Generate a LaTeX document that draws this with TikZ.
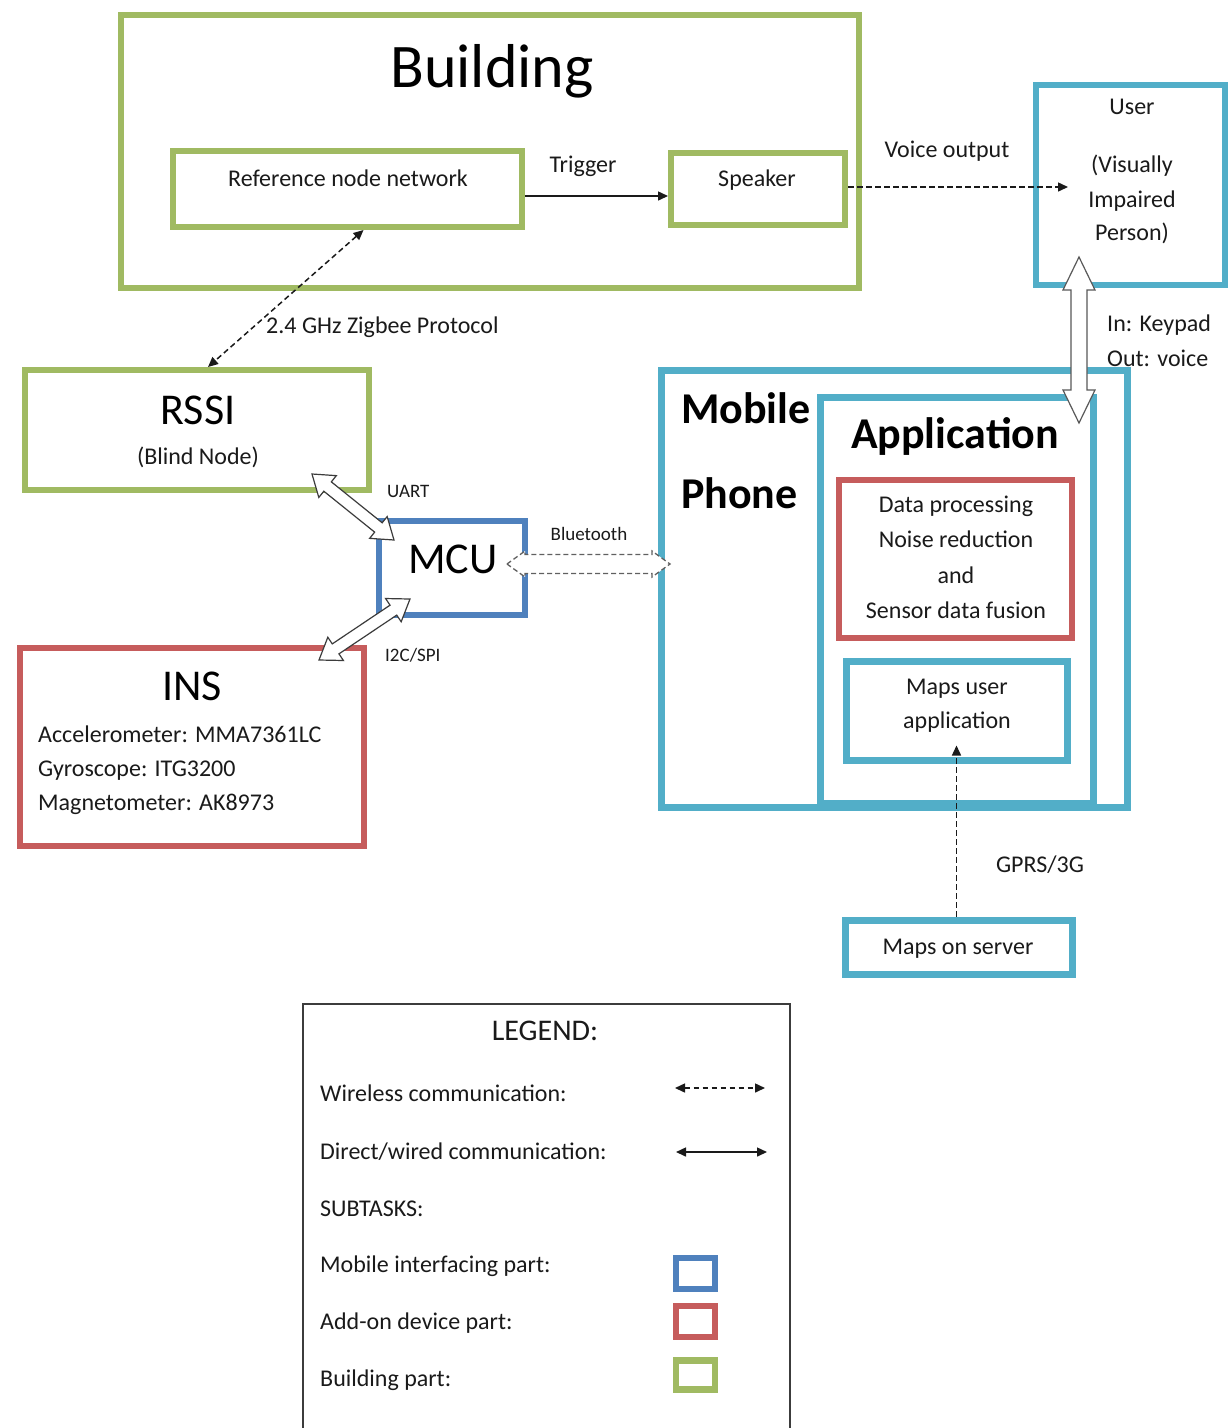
\documentclass[tikz,border=0pt]{standalone}
\usepackage{fontspec}
\setmainfont{Carlito}
\usetikzlibrary{arrows.meta}

\definecolor{bgreen}{HTML}{A0BA62}
\definecolor{bteal}{HTML}{52AEC8}
\definecolor{bred}{HTML}{C65C5C}
\definecolor{bblue}{HTML}{4F81BD}
\definecolor{ink}{HTML}{1A1A1A}

% hollow block arrow with heads at both ends:
% #1 style, #2 from, #3 to, #4 shaft half-width, #5 head half-width, #6 head length (pt)
\newcommand\blockarrow[6]{%
  \path (#2); \pgfgetlastxy{\baX}{\baY}%
  \path (#3); \pgfgetlastxy{\bbX}{\bbY}%
  \pgfmathsetmacro\baAng{atan2(\bbY-\baY,\bbX-\baX)}%
  \pgfmathsetmacro\baLen{veclen(\bbX-\baX,\bbY-\baY)}%
  \pgfmathsetmacro\baNeck{\baLen-#6}%
  \begin{scope}[shift={(\baX,\baY)}, rotate=\baAng]
    \draw[#1] (0pt,0pt) -- (#6pt,#5pt) -- (#6pt,#4pt) -- (\baNeck pt,#4pt)
      -- (\baNeck pt,#5pt) -- (\baLen pt,0pt) -- (\baNeck pt,-#5pt)
      -- (\baNeck pt,-#4pt) -- (#6pt,-#4pt) -- (#6pt,-#5pt) -- cycle;
  \end{scope}}

\tikzset{
  ftip/.tip={Triangle[length=10pt,width=9pt]},
  box/.style={draw, inner sep=0pt, line width=6pt},
  greenbox/.style={box, draw=bgreen},
  tealbox/.style={box, draw=bteal, line width=7pt},
  redbox/.style={box, draw=bred},
  bluebox/.style={box, draw=bblue},
  t/.style={inner sep=0pt, text=ink, font=\fontsize{24}{29}\selectfont,
            text height=17pt, text depth=5pt},
  ts/.style={inner sep=0pt, text=ink, font=\fontsize{19}{23}\selectfont,
             text height=13.5pt, text depth=4pt},
  tbig/.style={inner sep=0pt, text=black, font=\fontsize{44}{52}\selectfont, anchor=base},
  tbigb/.style={tbig, font=\fontsize{44}{52}\selectfont\bfseries},
  wireless/.style={draw=ink, line width=1.5pt, dash pattern=on 5.5pt off 3.5pt},
  wired/.style={draw=ink, line width=1.5pt},
  hollow/.style={draw=ink!85, fill=white, line width=1.2pt},
  hollowdash/.style={draw=gray!75!black, fill=white, line width=1.3pt, dash pattern=on 5pt off 3pt}
}

\begin{document}
\begin{tikzpicture}[x=1pt, y=-1pt]
\useasboundingbox[fill=white] (0,0) rectangle (1229,1428);

% ---------- building part ----------
\node[greenbox, minimum width=738pt, minimum height=273pt] (building) at (490,151.5) {};
\node[tbig, font=\fontsize{62}{70}\selectfont] (buildingT) at (492,87) {Building};
\node[greenbox, minimum width=349pt, minimum height=76pt] (refnet) at (347.5,189) {};
\node[t] (refnetT) at (348,180) {Reference node network};
\node[greenbox, minimum width=174pt, minimum height=72pt] (speaker) at (758,189) {};
\node[t] (speakerT) at (757,180) {Speaker};
\node[t] (triggerT) at (583,166) {Trigger};
\node[t] (voiceT) at (947,151) {Voice output};

% ---------- user ----------
\node[tealbox, line width=6pt, minimum width=189pt, minimum height=200pt] (user) at (1130.5,185) {};
\node[t] (userT) at (1132,108) {User};
\node[t] (userT1) at (1132,166) {(Visually};
\node[t] (userT2) at (1132,201) {Impaired};
\node[t] (userT3) at (1132,234) {Person)};
\node[t, anchor=west] (keypadT) at (1107,325) {In: Keypad};
\node[t, anchor=west] (outT) at (1107,360) {Out: voice};

% ---------- mobile phone ----------
\node[tealbox, minimum width=466pt, minimum height=437pt] (phone) at (894,588.5) {};
\node[tealbox, minimum width=273pt, minimum height=406pt] (app) at (956.5,600) {};
\node[tbigb, anchor=base west] (mobileT) at (681,423) {Mobile};
\node[tbigb, anchor=base west] (phoneT) at (681,508) {Phone};
\node[tbigb] (appT) at (955,448) {Application};
\node[redbox, minimum width=233pt, minimum height=158pt] (proc) at (955.5,559) {};
\node[t] (procT1) at (956,506) {Data processing};
\node[t] (procT2) at (956,541) {Noise reduction};
\node[t] (procT3) at (956,577) {and};
\node[t] (procT4) at (956,612) {Sensor data fusion};
\node[tealbox, minimum width=221pt, minimum height=99pt] (mapsapp) at (956.5,710.5) {};
\node[t] (mapsappT1) at (957,688) {Maps user};
\node[t] (mapsappT2) at (957,722) {application};
\node[tealbox, minimum width=227pt, minimum height=54pt] (server) at (958.5,947) {};
\node[t] (serverT) at (958,948) {Maps on server};
\node[t] (gprsT) at (1040,866) {GPRS/3G};

% ---------- add-on device ----------
\node[greenbox, minimum width=344pt, minimum height=120pt] (rssi) at (197,430) {};
\node[tbig] (rssiT) at (198,424) {RSSI};
\node[t] (blindT) at (198,458) {(Blind Node)};
\node[bluebox, minimum width=146pt, minimum height=94pt] (mcu) at (452,568) {};
\node[tbig] (mcuT) at (453,573) {MCU};
\node[redbox, minimum width=344pt, minimum height=198pt] (ins) at (192,747) {};
\node[tbig] (insT) at (192,700) {INS};
\node[t, anchor=west] (accT) at (38,736) {Accelerometer: MMA7361LC};
\node[t, anchor=west] (gyroT) at (38,770) {Gyroscope: ITG3200};
\node[t, anchor=west] (magT) at (38,804) {Magnetometer: AK8973};

% ---------- connectors ----------
\draw[wireless, ftip-ftip] ([xshift=16pt]refnet.south) -- ([xshift=11pt]rssi.north);
\node[t, anchor=west] (zigbeeT) at (266,327) {2.4 GHz Zigbee Protocol};
\draw[wired, -ftip] ([yshift=-7pt]refnet.east) -- ([yshift=-7pt]speaker.west);
\coordinate (voiceEnd) at (1068,187);
\draw[wireless, -ftip] ([yshift=2pt]speaker.east) -- (voiceEnd);
\draw[wireless, -ftip] (server.north -| mapsapp.south) -- ([yshift=18pt]mapsapp.south);

\coordinate (uartA) at (312,474);
\coordinate (uartB) at (394,540);
\coordinate (i2cA) at (319,660);
\coordinate (i2cB) at (410,599);
\coordinate (btA) at (507,564);
\coordinate (btB) at (670,564);
\coordinate (userA) at (1079,257);
\coordinate (userB) at (1079,423);
\blockarrow{hollow}{uartA}{uartB}{6}{14}{20}
\blockarrow{hollow}{i2cA}{i2cB}{6}{14}{20}
\blockarrow{hollowdash}{btA}{btB}{9.5}{13}{18}
\blockarrow{hollow, draw=gray!70!black}{userA}{userB}{8}{16}{33}
\node[ts, anchor=west] (uartT) at (387,493) {UART};
\node[ts] (btT) at (589,536) {Bluetooth};
\node[ts, anchor=west] (i2cT) at (385,657) {I2C/SPI};

% ---------- legend ----------
\node[draw=ink!85, line width=2pt, inner sep=0pt, minimum width=487pt, minimum height=440pt] (legend) at (546,1224) {};
\node[inner sep=0pt, text=ink, font=\fontsize{30}{36}\selectfont, text height=21pt, text depth=6pt] (legendT) at (545,1033) {LEGEND:};
\node[t, anchor=west] (lgWireless) at (320,1095) {Wireless communication:};
\node[t, anchor=west] (lgWired) at (320,1153) {Direct/wired communication:};
\node[t, anchor=west] (lgSub) at (320,1210) {SUBTASKS:};
\node[t, anchor=west] (lgMobile) at (320,1266) {Mobile interfacing part:};
\node[t, anchor=west] (lgAddon) at (320,1323) {Add-on device part:};
\node[t, anchor=west] (lgBuilding) at (320,1380) {Building part:};
\coordinate (lwA) at (675,1088);
\coordinate (lwB) at (765,1088);
\coordinate (ldA) at (676,1152);
\coordinate (ldB) at (767,1152);
\draw[wireless, ftip-ftip] (lwA) -- (lwB);
\draw[wired, ftip-ftip] (ldA) -- (ldB);
\node[bluebox, line width=6.5pt, minimum width=39pt, minimum height=31pt] (lgBlue) at (695.5,1273.5) {};
\node[redbox, line width=6.5pt, minimum width=39pt, minimum height=31pt] (lgRed) at (695.5,1321.5) {};
\node[greenbox, line width=6.5pt, minimum width=39pt, minimum height=29pt] (lgGreen) at (695.5,1375) {};
\end{tikzpicture}
\end{document}
